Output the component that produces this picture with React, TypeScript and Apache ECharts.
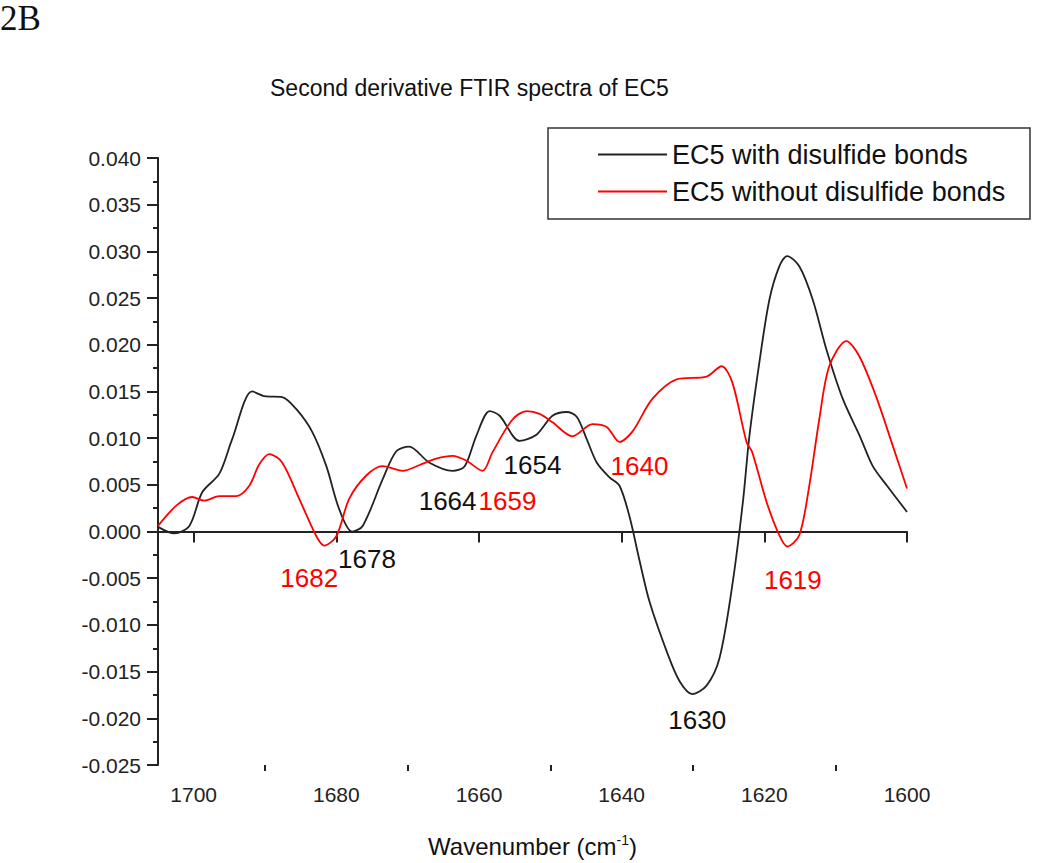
import React, { useEffect, useRef } from "react";
import * as echarts from "echarts";

const blackX = [1705, 1702.7, 1700.6, 1698.8, 1696.4, 1694.6, 1691.8, 1690.1, 1687.6, 1685.6, 1683.4, 1681.4, 1679.6, 1677.8, 1676.3, 1673.5, 1671.6, 1669.8, 1667.0, 1663.7, 1662.0, 1660.4, 1658.5, 1657.1, 1654.3, 1651.9, 1649.7, 1647.7, 1646.3, 1644.9, 1643.5, 1641.7, 1640.3, 1638.9, 1637.5, 1636.1, 1633.7, 1631.9, 1630.1, 1628.1, 1626.3, 1624.5, 1623.0, 1622.1, 1620.7, 1619.3, 1617.9, 1616.8, 1615.1, 1613.2, 1611.3, 1609.0, 1606.6, 1604.8, 1602.8, 1600.0];
const blackY = [0.0005, -0.0002, 0.0006, 0.0042, 0.0062, 0.0099, 0.0150, 0.0145, 0.0144, 0.0131, 0.0107, 0.0070, 0.0024, 0.0000, 0.0006, 0.0056, 0.0086, 0.0091, 0.0074, 0.0065, 0.0070, 0.0102, 0.0129, 0.0124, 0.0097, 0.0104, 0.0124, 0.0128, 0.0123, 0.0099, 0.0074, 0.0058, 0.0049, 0.0016, -0.0031, -0.0075, -0.0128, -0.0160, -0.0174, -0.0165, -0.0136, -0.0058, 0.0032, 0.0102, 0.0181, 0.0248, 0.0284, 0.0295, 0.0284, 0.0248, 0.0195, 0.0142, 0.0102, 0.0070, 0.0049, 0.0021];

const redX = [1705, 1702.4, 1700.2, 1698.5, 1696.4, 1694.0, 1692.2, 1690.8, 1689.4, 1687.6, 1685.2, 1682.8, 1681.7, 1680.0, 1678.2, 1675.8, 1673.5, 1670.7, 1668.4, 1666.0, 1663.7, 1661.8, 1659.5, 1658.1, 1655.3, 1653.3, 1651.5, 1649.7, 1646.9, 1644.1, 1642.1, 1640.3, 1638.5, 1635.7, 1632.3, 1628.1, 1626.0, 1624.5, 1622.5, 1621.7, 1619.7, 1617.9, 1616.8, 1615.1, 1613.7, 1612.3, 1610.9, 1608.5, 1606.7, 1604.3, 1602.0, 1600.0];
const redY = [0.0006, 0.0028, 0.0037, 0.0033, 0.0038, 0.0038, 0.0049, 0.0072, 0.0083, 0.0074, 0.0035, -0.0005, -0.0015, -0.0005, 0.0035, 0.0060, 0.0070, 0.0065, 0.0071, 0.0078, 0.0081, 0.0076, 0.0065, 0.0085, 0.0120, 0.0129, 0.0126, 0.0117, 0.0102, 0.0115, 0.0112, 0.0096, 0.0107, 0.0142, 0.0163, 0.0166, 0.0177, 0.0160, 0.0096, 0.0085, 0.0032, -0.0004, -0.0016, -0.0004, 0.0049, 0.0120, 0.0177, 0.0204, 0.0188, 0.0144, 0.0092, 0.0046];

const seriesNames = ["EC5 with disulfide bonds", "EC5 without disulfide bonds"];

// annotation labels: [text, wavenumber, value]
const blackLabels: [string, number, number][] = [
  ["1678", 1675.7, -0.0029],
  ["1664", 1664.4, 0.0033],
  ["1654", 1652.5, 0.0071],
  ["1630", 1629.4, -0.0202],
];
const redLabels: [string, number, number][] = [
  ["1682", 1683.8, -0.005],
  ["1659", 1656.0, 0.0033],
  ["1640", 1637.5, 0.007],
  ["1619", 1616.0, -0.0052],
];

const xMajorTicks = [1600, 1620, 1640, 1660, 1680, 1700];
const xMinorTicks = [1610, 1630, 1650, 1670, 1690];

const FONT = "'Liberation Sans', Arial, sans-serif";

export default function App() {
  const ref = useRef<HTMLDivElement>(null);
  useEffect(() => {
    if (!ref.current) return;
    const chart = echarts.init(ref.current, undefined, { renderer: "svg" });
    const zip = (xs: number[], ys: number[]) => xs.map((x, i) => [x, ys[i]]);
    const mp = (labels: [string, number, number][], color: string) => ({
      symbol: "circle",
      symbolSize: 0,
      silent: true,
      label: {
        show: true,
        position: "inside",
        formatter: "{b}",
        color,
        fontSize: 26,
        fontFamily: FONT,
      },
      data: labels.map(([t, x, y]) => ({ name: t, coord: [x, y] })),
    });
    chart.setOption({
      animation: false,
      backgroundColor: "#ffffff",
      title: {
        text: "Second derivative FTIR spectra of EC5",
        left: 270,
        top: 76,
        padding: 0,
        textStyle: { fontSize: 23, fontWeight: "normal", color: "#111", fontFamily: FONT },
      },
      legend: {
        data: seriesNames,
        orient: "vertical",
        left: 598,
        top: 141,
        padding: 0,
        itemGap: 10,
        itemWidth: 69,
        itemHeight: 2,
        icon: "rect",
        textStyle: { fontSize: 27, color: "#111", fontFamily: FONT, padding: [0, 0, 0, 0] },
      },
      graphic: [
        {
          type: "rect",
          shape: { x: 548, y: 128, width: 482, height: 91 },
          style: { fill: "none", stroke: "#333", lineWidth: 1.5 },
        },
        {
          type: "text",
          x: 0,
          y: 1,
          style: { text: "2B", font: "35px 'Liberation Serif', 'Times New Roman', serif", fill: "#111", textVerticalAlign: "top" },
        },
      ],
      grid: { left: 158, right: 143, top: 158, bottom: 96 },
      xAxis: [
        {
          type: "value",
          min: 1600,
          max: 1705,
          inverse: true,
          position: "bottom",
          axisLine: { show: true, lineStyle: { color: "#222", width: 2 } },
          axisTick: { show: true, customValues: xMajorTicks, length: 11, lineStyle: { color: "#222", width: 2 } },
          axisLabel: {
            customValues: xMajorTicks,
            fontSize: 21,
            color: "#222",
            fontFamily: FONT,
            margin: 19,
            formatter: (v: number) => String(v),
          },
          splitLine: { show: false },
          name: "{a|Wavenumber (cm}{s|-1}{a|)}",
          nameLocation: "middle",
          nameGap: 68,
          nameTextStyle: {
            rich: {
              a: { fontSize: 24, color: "#111", fontFamily: FONT },
              s: { fontSize: 14, color: "#111", fontFamily: FONT, verticalAlign: "top", padding: [0, 0, 12, 0] },
            },
          },
        },
        {
          type: "value",
          min: 1600,
          max: 1705,
          inverse: true,
          position: "bottom",
          axisLine: { show: false },
          axisTick: { show: true, customValues: xMinorTicks, length: 6, lineStyle: { color: "#222", width: 2 } },
          axisLabel: { show: false },
          splitLine: { show: false },
        },
      ],
      yAxis: {
        type: "value",
        min: -0.025,
        max: 0.04,
        interval: 0.005,
        axisLine: { show: true, lineStyle: { color: "#222", width: 2 } },
        axisTick: { show: true, length: 11, lineStyle: { color: "#222", width: 2 } },
        minorTick: { show: true, splitNumber: 2, length: 5, lineStyle: { color: "#222", width: 2 } },
        axisLabel: {
          fontSize: 21,
          color: "#222",
          fontFamily: FONT,
          margin: 17,
          formatter: (v: number) => v.toFixed(3),
        },
        splitLine: { show: false },
      },
      series: [
        {
          name: seriesNames[0],
          type: "line",
          data: zip(blackX, blackY),
          smooth: 0.3,
          symbol: "none",
          lineStyle: { color: "#222222", width: 1.8 },
          itemStyle: { color: "#222222" },
          markPoint: mp(blackLabels, "#111"),
        },
        {
          name: seriesNames[1],
          type: "line",
          data: zip(redX, redY),
          smooth: 0.3,
          symbol: "none",
          lineStyle: { color: "#ff0000", width: 1.8 },
          itemStyle: { color: "#ff0000" },
          markPoint: mp(redLabels, "#ff0000"),
        },
      ],
    });
    return () => chart.dispose();
  }, []);
  return (
    <div
      ref={ref}
      style={{ position: "absolute", left: 0, top: 0, width: 1050, height: 863, background: "#fff" }}
    />
  );
}
